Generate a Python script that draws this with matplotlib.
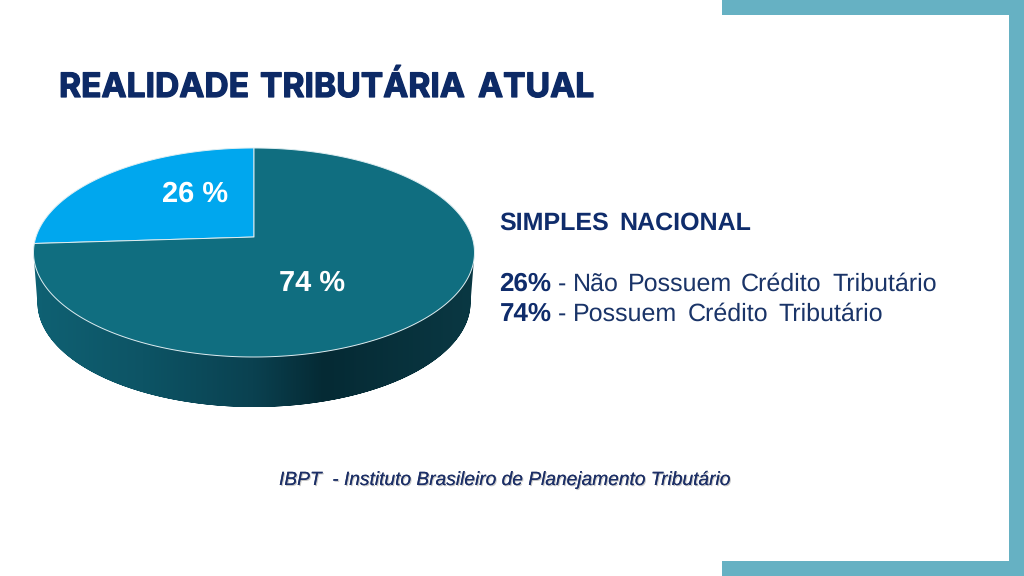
import numpy as np
import matplotlib
matplotlib.use("Agg")
import matplotlib.pyplot as plt
import matplotlib.patheffects as pe
from matplotlib.colors import LinearSegmentedColormap
from matplotlib.patches import Polygon, Rectangle, PathPatch
from matplotlib.path import Path

# data
shares = [26, 74]
share_labels = ["26 %", "74 %"]
slice_colors = ["#00a7ee", "#106e80"]
title_words = ["REALIDADE", "TRIBUTÁRIA", "ATUAL"]
heading_words = ["SIMPLES", "NACIONAL"]
legend_values = ["26%", "74%"]
legend_words = [["Não", "Possuem", "Crédito", "Tributário"],
                ["Possuem", "Crédito", "Tributário"]]
source = "IBPT  - Instituto Brasileiro de Planejamento Tributário"

# word positions in the layout
title_x = [59, 260, 478]
heading_x = [499.5, 619.5]
legend_x = [[573, 628, 741, 832], [573, 688, 778]]
legend_y = [291, 321]
legend_dy = [[0.7, 0, 0, 0], [0, 0, 0]]

NAVY = "#0f2c6b"
BODY = "#1a3468"
BAR = "#66b1c3"
plt.rcParams["font.family"] = ["Liberation Sans", "DejaVu Sans"]
plt.rcParams["text.hinting"] = "no_hinting"
plt.rcParams["text.hinting_factor"] = 1

fig = plt.figure(figsize=(10.24, 5.76), dpi=100, facecolor="white")
ax = fig.add_axes([0, 0, 1, 1])
ax.set_xlim(0, 1024)
ax.set_ylim(576, 0)
ax.axis("off")

# frame bars
ax.add_patch(Rectangle((722, 0), 302, 15, fc=BAR, ec="none"))
ax.add_patch(Rectangle((1008.5, 0), 15.5, 576, fc=BAR, ec="none"))
ax.add_patch(Rectangle((722, 561), 302, 15, fc=BAR, ec="none"))

# tilted pie: projective view of the unit disc
CX, VC, TOP, BOT, HALF_W, DEPTH = 254, 237, 148, 357, 220.5, 50
c = (TOP + BOT - 2 * VC) / (BOT - TOP)
a = TOP * (1 + c) - VC
k = HALF_W * np.sqrt(1 - c * c)


def project(theta):
    x, y = np.cos(theta), np.sin(theta)
    w = 1 + c * y
    return CX + k * x / w, (a * y + VC) / w


def wedge(t0, t1):
    th = np.linspace(t0, t1, 300)
    X, Y = project(th)
    return np.column_stack([np.r_[CX, X], np.r_[VC, Y]])


# side wall with horizontal gradient; its lower rim sits a little narrower
th = np.linspace(0, 2 * np.pi, 720)
X, Y = project(th)
lower = np.column_stack([CX + (X - CX) * 0.982, Y + DEPTH])
upper = np.column_stack([X, Y])
left, right = np.argmin(X), np.argmax(X)
order = np.r_[np.arange(left, len(th)), np.arange(0, right + 1)]
side_poly = np.vstack([[X[left], Y[left]], lower[order], [X[right], Y[right]],
                       upper[right:left + 1]])
cmap = LinearSegmentedColormap.from_list(
    "side", [(0, "#0f6173"), (0.25, "#0d5465"), (0.5, "#0a4150"), (0.66, "#052a34"), (1, "#0a3843")])
im = ax.imshow(np.linspace(0, 1, 256)[None, :], cmap=cmap, aspect="auto",
               extent=(33, 474, 410, 240), zorder=1)
clip = PathPatch(Path(side_poly), transform=ax.transData, fc="none", ec="none")
ax.add_patch(clip)
im.set_clip_path(clip)
ax.set_xlim(0, 1024)
ax.set_ylim(576, 0)

# slices: start at 12 o'clock, counter-clockwise
start = np.pi / 2
for val, col in zip(shares, slice_colors):
    sweep = val / sum(shares) * 2 * np.pi
    ax.add_patch(Polygon(wedge(start, start + sweep), closed=True, fc=col,
                         ec="#dfeef2", lw=0.7, zorder=3, joinstyle="round"))
    start += sweep

# slice labels
for (lx, ly), s in zip([(195, 194), (312, 283)], share_labels):
    ax.text(lx, ly, s, color="white", fontsize=20.7, fontweight="bold",
            ha="center", va="center", zorder=5)

# title
for x, w in zip(title_x, title_words):
    ax.text(x, 97, w, color="#0d2a66", fontsize=24.2, fontweight="bold",
            family="Inter", ha="left", va="baseline",
            path_effects=[pe.withStroke(linewidth=0.9, foreground="#0d2a66")])

# right-hand text
for x, w in zip(heading_x, heading_words):
    ax.text(x, 229.5, w, color=NAVY, fontsize=17.9, fontweight="bold", va="baseline")
for y, v, xs, ws, dys in zip(legend_y, legend_values, legend_x, legend_words, legend_dy):
    ax.text(499.5, y, v, color=NAVY, fontsize=18.4, fontweight="bold", va="baseline")
    ax.text(558, y, "-", color=BODY, fontsize=17.9, va="baseline")
    for x, w, dy in zip(xs, ws, dys):
        ax.text(x, y + dy, w, color=BODY, fontsize=17.9, va="baseline")

# source
ax.text(279, 485, source, color="#1c2f66", fontsize=13.8, fontstyle="italic", va="baseline",
        path_effects=[pe.withSimplePatchShadow(offset=(0.8, -0.8), shadow_rgbFace="#8c8c8c", alpha=0.5),
                      pe.Normal()])

fig.savefig("out.png", dpi=100, facecolor="white")
